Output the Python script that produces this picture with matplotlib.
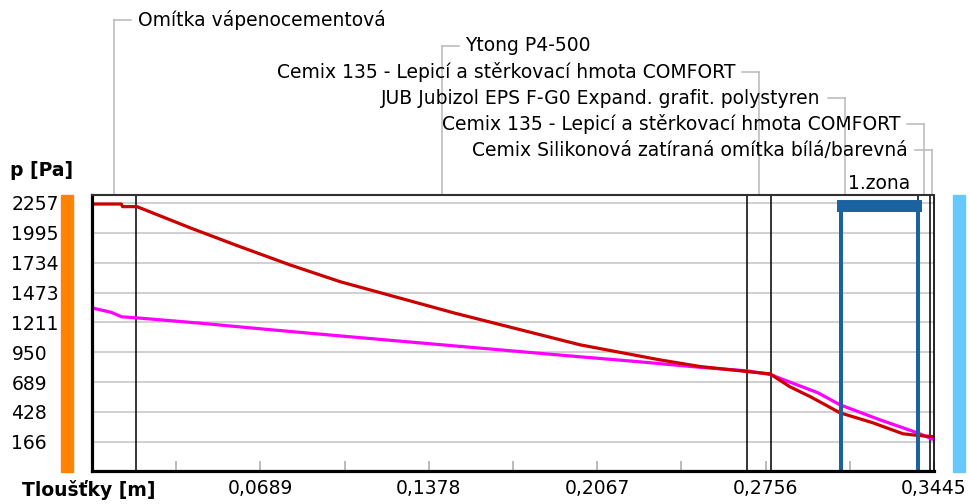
import numpy as np
import matplotlib.pyplot as plt
import matplotlib.transforms as mtransforms
from matplotlib.patches import Rectangle

plt.rcParams['font.family'] = ['DejaVu Sans']
plt.rcParams['font.size'] = 13.5

# hranice vrstev [m]
hranice = [0.0, 0.018, 0.268, 0.278, 0.338, 0.3429, 0.3445]
vrstvy = ['Omítka vápenocementová',
          'Ytong P4-500',
          'Cemix 135 - Lepicí a stěrkovací hmota COMFORT',
          'JUB Jubizol EPS F-G0 Expand. grafit. polystyren',
          'Cemix 135 - Lepicí a stěrkovací hmota COMFORT',
          'Cemix Silikonová zatíraná omítka bílá/barevná']
# radek popisku (zlomek vysky osy) a strana textu vuci vodici care
popisky_y = [1.634, 1.540, 1.446, 1.351, 1.257, 1.163]
strany = [1, 1, -1, -1, -1, -1]

# castecny tlak vodni pary p
x_p = [0.0, 0.012, 0.0125, 0.0184, 0.0401, 0.0605, 0.0810, 0.1015, 0.1485,
       0.1997, 0.2324, 0.2488, 0.268, 0.2774, 0.2856, 0.2938, 0.306,
       0.3195, 0.3318, 0.3376, 0.3445]
p = [2248, 2248, 2225, 2225, 2040, 1875, 1715, 1568, 1292,
     1015, 883, 825, 781, 761, 647, 562, 420,
     332, 236, 222, 210]

# nasyceny tlak vodni pary p_sat
x_s = [0.0, 0.0078, 0.0122, 0.0184, 0.044, 0.0716, 0.1015, 0.1395, 0.1997,
       0.2242, 0.2488, 0.268, 0.2774, 0.297, 0.306, 0.3224, 0.3376, 0.3445]
p_sat = [1338, 1300, 1260, 1251, 1205, 1150, 1093, 1022, 910,
         866, 818, 787, 755, 595, 490, 358, 245, 184]

zona = (0.3065, 0.338)

y_ticks = [166, 428, 689, 950, 1211, 1473, 1734, 1995, 2257]
x_ticks = [0.0689, 0.1378, 0.2067, 0.2756, 0.3445]
x_labels = ['0,0689', '0,1378', '0,2067', '0,2756', '0,3445']

fig = plt.figure(figsize=(9.7, 5.04), dpi=100)
ax = fig.add_axes([92 / 970, 33 / 504, 842 / 970, 276 / 504])

ax.set_xlim(0, 0.3445)
ax.set_ylim(-90, 2327)

ax.set_yticks(y_ticks, [str(v) for v in y_ticks])
ax.grid(axis='y', color='#c4c4c4', lw=1.1)
ax.set_axisbelow(True)
ax.tick_params(axis='y', length=0, pad=58)
for lab in ax.get_yticklabels():
    lab.set_horizontalalignment('left')

ax.set_xticks(x_ticks, x_labels)
ax.set_xticks([t - 0.03445 for t in x_ticks], minor=True)
ax.tick_params(axis='x', which='both', direction='in', length=7, width=1.1,
               color='#a8a8a8', pad=6)

for s, w, c in [('left', 2.3, 'black'), ('bottom', 2.3, 'black'),
                ('top', 1.5, '#303030'), ('right', 1.2, 'black')]:
    ax.spines[s].set_linewidth(w)
    ax.spines[s].set_color(c)

# hranice vrstev
for h in hranice[1:-1]:
    ax.axvline(h, color='black', lw=1.1)

ax.plot(x_s, p_sat, color='#ff00ff', lw=2.3)
ax.plot(x_p, p, color='#cc0000', lw=2.3)

trans = mtransforms.blended_transform_factory(ax.transData, ax.transAxes)

# kondenzacni zona
modra = '#1b62a0'
for z in zona:
    ax.plot([z, z], [0, 0.96], color=modra, lw=2.9, transform=trans,
            solid_capstyle='butt')
ax.plot([zona[0] - 0.0016, zona[1] + 0.0016], [0.96, 0.96], color=modra,
        lw=8.6, transform=trans, solid_capstyle='butt')
ax.text((zona[0] + zona[1]) / 2, 1.043, '1.zona', ha='center', va='center',
        transform=trans)

# popisky vrstev s vodicimi carami
px_na_m = 842 / 0.3445
dx = 17 / px_na_m
mezera = 7 / px_na_m
sed = '#b8b8b8'
for i, (nazev, rada, strana) in enumerate(zip(vrstvy, popisky_y, strany)):
    xm = (hranice[i] + hranice[i + 1]) / 2
    ax.plot([xm, xm], [1, rada], color=sed, lw=1.1, transform=trans,
            clip_on=False)
    ax.plot([xm, xm + strana * dx], [rada, rada], color=sed, lw=1.1,
            transform=trans, clip_on=False)
    ax.text(xm + strana * (dx + mezera), rada, nazev,
            ha='left' if strana > 0 else 'right', va='center',
            transform=trans)

# barevne pruhy interier / exterier
ax.add_patch(Rectangle((-0.0368, -0.004), 0.0143, 1.004, transform=ax.transAxes,
                       color='#ff8200', clip_on=False))
ax.add_patch(Rectangle((1.0226, -0.004), 0.0142, 1.004, transform=ax.transAxes,
                       color='#66c8ff', clip_on=False))

fig.text(10 / 970, 1 - 170 / 504, 'p [Pa]', fontweight='bold', va='center')
fig.text(22 / 970, 1 - 490 / 504, 'Tloušťky [m]', fontweight='bold', va='center')

fig.savefig('out.png', dpi=100)
